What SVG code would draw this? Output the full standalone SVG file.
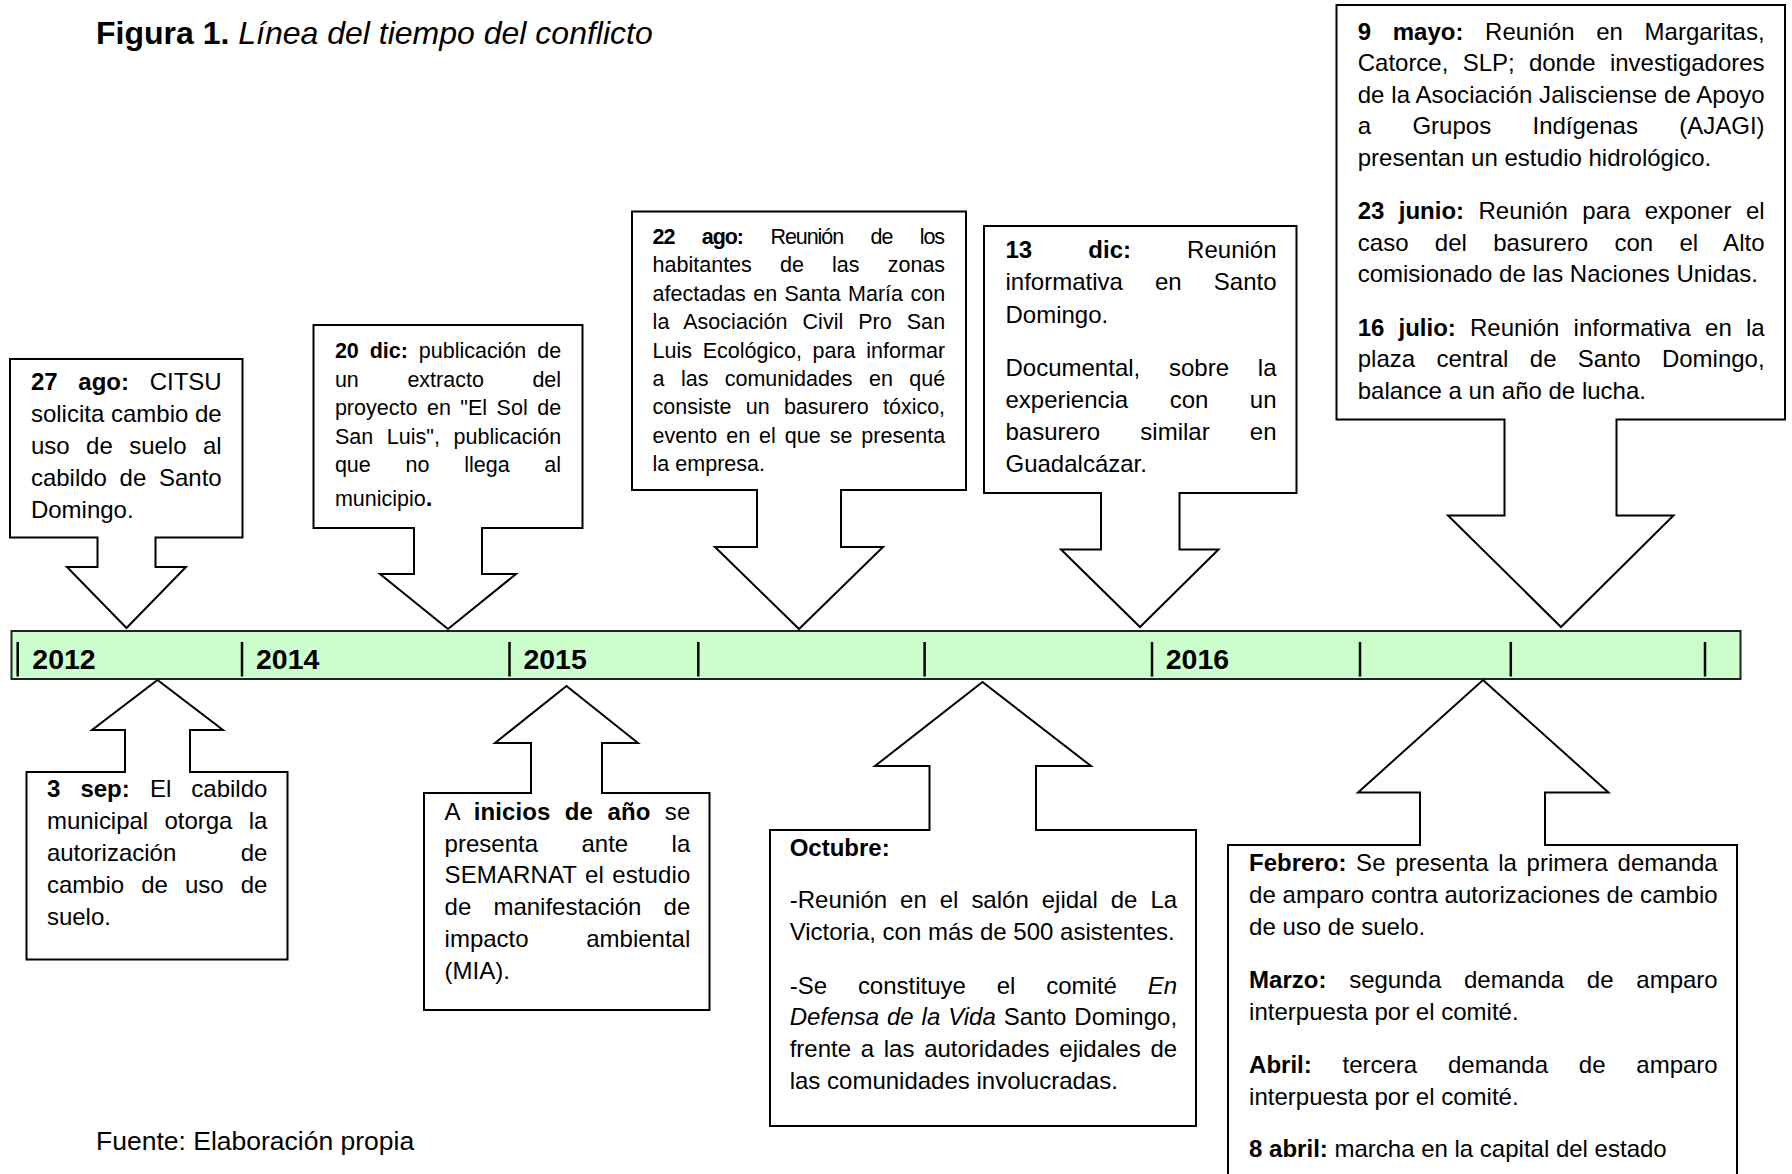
<svg xmlns="http://www.w3.org/2000/svg" width="1792" height="1174" viewBox="0 0 1792 1174">
<style>
text{font-family:"Liberation Sans",Arial,sans-serif;fill:#000}
.t{font-size:24px}
.s{font-size:21.5px}
.b{font-weight:700}
.i{font-style:italic}
.co{fill:#fff;stroke:#000;stroke-width:2;stroke-linejoin:miter}
.bar{fill:#ccffcc;stroke:#222;stroke-width:2}
.tick{stroke:#000;stroke-width:2.5;fill:none}
.yr{font-size:28.5px;font-weight:700}
</style>
<rect width="1792" height="1174" fill="#fff"/>
<g id="title">
<text x="96" y="44" style="font-size:32px"><tspan class="b">Figura 1.</tspan><tspan class="i"> Línea del tiempo del conflicto</tspan></text>
</g>
<g id="timeline">
<rect class="bar" x="11.5" y="631" width="1729" height="48"/>
<path class="tick" d="M17.7,642V676.5M242,642V676.5M509.5,642V676.5M698.3,642V676.5M924.6,642V676.5M1152,642V676.5M1360,642V676.5M1510.8,642V676.5M1705,642V676.5"/>
<text class="yr" x="32.3" y="668.5">2012</text>
<text class="yr" x="256" y="668.5">2014</text>
<text class="yr" x="523.4" y="668.5">2015</text>
<text class="yr" x="1165.7" y="668.5">2016</text>
</g>
<g id="connectors"></g>
<g id="n-27ago">
<path class="co" d="M10,359H242.5V537.5H155.5V567H186L126.5,628L67,567H97.5V537.5H10Z"/>
<text class="t" x="30.9" y="390.3" word-spacing="14" textLength="190.8"><tspan class="b">27 ago:</tspan> CITSU</text>
<text class="t" x="30.9" y="422.3" textLength="190.8">solicita cambio de</text>
<text class="t" x="30.9" y="454.3" word-spacing="9.8" textLength="190.8">uso de suelo al</text>
<text class="t" x="30.9" y="486.3" word-spacing="6" textLength="190.8">cabildo de Santo</text>
<text class="t" x="30.9" y="518.3">Domingo.</text>
</g>
<g id="n-20dic">
<path class="co" d="M313.5,325H582.5V528H482V574H516L448,629L380,574H414V528H313.5Z"/>
<text class="s" x="334.9" y="358" word-spacing="4.9" textLength="226.2"><tspan class="b">20 dic:</tspan> publicación de</text>
<text class="s" x="334.9" y="386.6" word-spacing="42.6" textLength="226.2">un extracto del</text>
<text class="s" x="334.9" y="415.2" word-spacing="3.5" textLength="226.2">proyecto en "El Sol de</text>
<text class="s" x="334.9" y="443.8" word-spacing="7.7" textLength="226.2">San Luis", publicación</text>
<text class="s" x="334.9" y="472.4" word-spacing="28.8" textLength="226.2">que no llega al</text>
<text class="s" x="334.9" y="506">municipio<tspan class="b" style="font-size:24px">.</tspan></text>
</g>
<g id="n-22ago">
<path class="co" d="M632,211.5H966V490H841V547H883L799,629L715,547H757V490H632Z"/>
<text class="s" x="652.6" y="244" word-spacing="22.6" textLength="292.5"><tspan class="b">22 ago:</tspan> Reunión de los</text>
<text class="s" x="652.6" y="272.4" word-spacing="22.2" textLength="292.5">habitantes de las zonas</text>
<text class="s" x="652.6" y="300.8" word-spacing="1.4" textLength="292.5">afectadas en Santa María con</text>
<text class="s" x="652.6" y="329.2" word-spacing="8.9" textLength="292.5">la Asociación Civil Pro San</text>
<text class="s" x="652.6" y="357.6" word-spacing="4.7" textLength="292.5">Luis Ecológico, para informar</text>
<text class="s" x="652.6" y="386" word-spacing="10.4" textLength="292.5">a las comunidades en qué</text>
<text class="s" x="652.6" y="414.4" word-spacing="8.3" textLength="292.5">consiste un basurero tóxico,</text>
<text class="s" x="652.6" y="442.8" word-spacing="3" textLength="292.5">evento en el que se presenta</text>
<text class="s" x="652.6" y="471.2">la empresa.</text>
</g>
<g id="n-13dic">
<path class="co" d="M984,226H1296.5V493H1179.5V549.5H1218.5L1140,627L1061,549.5H1101V493H984Z"/>
<text class="t" x="1005.5" y="258" word-spacing="49.5" textLength="271"><tspan class="b">13 dic:</tspan> Reunión</text>
<text class="t" x="1005.5" y="290.3" word-spacing="25.5" textLength="271">informativa en Santo</text>
<text class="t" x="1005.5" y="322.6">Domingo.</text>
<text class="t" x="1005.5" y="375.5" word-spacing="22.1" textLength="271">Documental, sobre la</text>
<text class="t" x="1005.5" y="407.8" word-spacing="34.8" textLength="271">experiencia con un</text>
<text class="t" x="1005.5" y="440.1" word-spacing="33.5" textLength="271">basurero similar en</text>
<text class="t" x="1005.5" y="472.4">Guadalcázar.</text>
</g>
<g id="n-2016a">
<path class="co" d="M1336.5,5H1785V419.5H1616.5V515.5H1673.5L1561,627L1448,515.5H1504.5V419.5H1336.5Z"/>
<text class="t" x="1357.7" y="39.5" word-spacing="15" textLength="406.9"><tspan class="b">9 mayo:</tspan> Reunión en Margaritas,</text>
<text class="t" x="1357.7" y="71" word-spacing="7.6" textLength="406.9">Catorce, SLP; donde investigadores</text>
<text class="t" x="1357.7" y="102.5" textLength="406.9">de la Asociación Jalisciense de Apoyo</text>
<text class="t" x="1357.7" y="134" word-spacing="34.7" textLength="406.9">a Grupos Indígenas (AJAGI)</text>
<text class="t" x="1357.7" y="165.5">presentan un estudio hidrológico.</text>
<text class="t" x="1357.7" y="219" word-spacing="7.7" textLength="406.9"><tspan class="b">23 junio:</tspan> Reunión para exponer el</text>
<text class="t" x="1357.7" y="250.5" word-spacing="19.5" textLength="406.9">caso del basurero con el Alto</text>
<text class="t" x="1357.7" y="282">comisionado de las Naciones Unidas.</text>
<text class="t" x="1357.7" y="335.5" word-spacing="7.5" textLength="406.9"><tspan class="b">16 julio:</tspan> Reunión informativa en la</text>
<text class="t" x="1357.7" y="367" word-spacing="14.7" textLength="406.9">plaza central de Santo Domingo,</text>
<text class="t" x="1357.7" y="398.5">balance a un año de lucha.</text>
</g>
<g id="n-3sep">
<path class="co" d="M26.5,772H125V730H92L157.5,680L223,730H190V772H287.5V959.5H26.5Z"/>
<text class="t" x="46.9" y="797.1" word-spacing="13.5" textLength="220.5"><tspan class="b">3 sep:</tspan> El cabildo</text>
<text class="t" x="46.9" y="829.1" word-spacing="9.6" textLength="220.5">municipal otorga la</text>
<text class="t" x="46.9" y="861.1" word-spacing="57.8" textLength="220.5">autorización de</text>
<text class="t" x="46.9" y="893.1" word-spacing="10.4" textLength="220.5">cambio de uso de</text>
<text class="t" x="46.9" y="925.1">suelo.</text>
</g>
<g id="n-2015">
<path class="co" d="M424,793H531V743H495L566.5,686L638,743H602V793H709.5V1010H424Z"/>
<text class="t" x="444.6" y="820" word-spacing="7.7" textLength="245.7">A <tspan class="b">inicios de año</tspan> se</text>
<text class="t" x="444.6" y="851.7" word-spacing="36.8" textLength="245.7">presenta ante la</text>
<text class="t" x="444.6" y="883.4" word-spacing="1.5" textLength="245.7">SEMARNAT el estudio</text>
<text class="t" x="444.6" y="915.1" word-spacing="15.5" textLength="245.7">de manifestación de</text>
<text class="t" x="444.6" y="946.8" word-spacing="51" textLength="245.7">impacto ambiental</text>
<text class="t" x="444.6" y="978.5">(MIA).</text>
</g>
<g id="n-octubre">
<path class="co" d="M770,830H929.5V766H875L982.5,682L1091,766H1036V830H1196V1126H770Z"/>
<text class="t b" x="789.7" y="855.5">Octubre:</text>
<text class="t" x="789.7" y="908" word-spacing="6.3" textLength="387.4">-Reunión en el salón ejidal de La</text>
<text class="t" x="789.7" y="940">Victoria, con más de 500 asistentes.</text>
<text class="t" x="789.7" y="993.5" word-spacing="24.2" textLength="387.4">-Se constituye el comité <tspan class="i">En</tspan></text>
<text class="t" x="789.7" y="1025.2" word-spacing="1.2" textLength="387.4"><tspan class="i">Defensa de la Vida</tspan> Santo Domingo,</text>
<text class="t" x="789.7" y="1056.9" word-spacing="3" textLength="387.4">frente a las autoridades ejidales de</text>
<text class="t" x="789.7" y="1088.6">las comunidades involucradas.</text>
</g>
<g id="n-2016b">
<path class="co" d="M1228,845H1420V792.5H1358L1483,680L1608.5,792.5H1545V845H1737V1190H1228Z"/>
<text class="t" x="1249.1" y="871.4" word-spacing="3" textLength="468.6"><tspan class="b">Febrero:</tspan> Se presenta la primera demanda</text>
<text class="t" x="1249.1" y="903.4" textLength="468.6">de amparo contra autorizaciones de cambio</text>
<text class="t" x="1249.1" y="935.4">de uso de suelo.</text>
<text class="t" x="1249.1" y="988" word-spacing="16.1" textLength="468.6"><tspan class="b">Marzo:</tspan> segunda demanda de amparo</text>
<text class="t" x="1249.1" y="1020">interpuesta por el comité.</text>
<text class="t" x="1249.1" y="1072.6" word-spacing="24.1" textLength="468.6"><tspan class="b">Abril:</tspan> tercera demanda de amparo</text>
<text class="t" x="1249.1" y="1104.6">interpuesta por el comité.</text>
<text class="t" x="1249.1" y="1157.1"><tspan class="b">8 abril:</tspan> marcha en la capital del estado</text>
</g>
<g id="footer">
<text x="96" y="1150" style="font-size:26.5px">Fuente: Elaboración propia</text>
</g>
</svg>
